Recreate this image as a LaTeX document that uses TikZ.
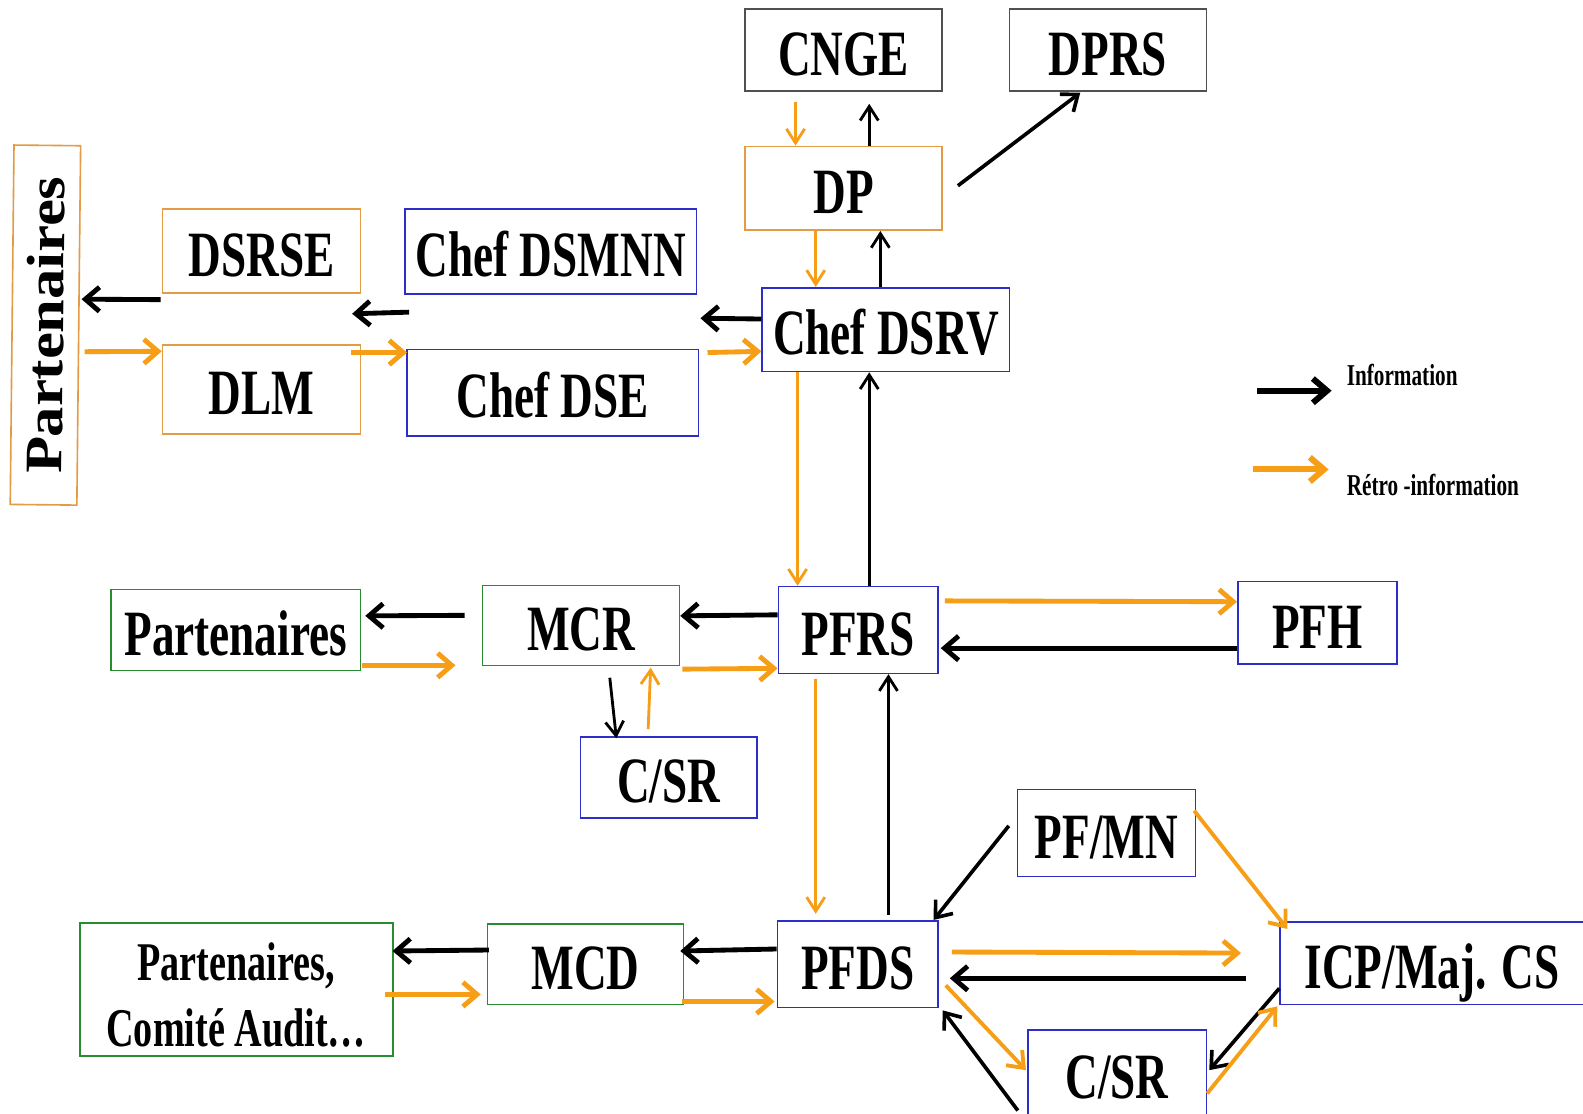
\documentclass[tikz,border=0pt]{standalone}
\usepackage{fontspec}
\usepackage{tikz}
\usetikzlibrary{arrows.meta}
\newfontfamily\boxfont{Liberation Serif}[FakeStretch=0.7]
\newfontfamily\widefont{Liberation Serif}[FakeStretch=1.15]
\definecolor{retro}{RGB}{246,158,22}
\definecolor{bxorange}{RGB}{228,155,70}
\definecolor{bxblue}{RGB}{45,45,200}
\definecolor{bxgreen}{RGB}{40,140,50}
\definecolor{bxgray}{RGB}{80,80,80}

\begin{document}
\begin{tikzpicture}
		[x=0.5pt,y=-0.5pt,
		bx/.style={draw,line width=0.8pt,inner sep=0pt,text height=25pt,text depth=0pt,
			font=\boxfont\bfseries\fontsize{32}{36}\selectfont},
		inf/.style={black,line width=2.4pt,-{Straight Barb[length=7pt,width=12pt]}},
		ret/.style={retro,line width=2.4pt,-{Straight Barb[length=7pt,width=12pt]}},
		infs/.style={black,line width=1.4pt,-{Straight Barb[length=7pt,width=9pt]}},
		rets/.style={retro,line width=1.4pt,-{Straight Barb[length=7pt,width=9pt]}},
		infd/.style={black,line width=1.8pt,-{Straight Barb[length=7pt,width=11pt]}},
		retd/.style={retro,line width=1.9pt,-{Straight Barb[length=7pt,width=11pt]}}]

		\useasboundingbox[fill=white] (0,0) rectangle (1568,1102.5);

		\node[bx,draw=bxgray,minimum width=97.5pt,minimum height=40.5pt] (cnge) at (835.5,49.5) {CNGE};
		\node[bx,draw=bxgray,minimum width=97.5pt,minimum height=40.5pt] (dprs) at (1097.5,49.5) {DPRS};
		\node[bx,draw=bxorange,minimum width=97.5pt,minimum height=41.5pt] (dp) at (835.5,186.5) {DP};
		\node[bx,draw=bxblue,minimum width=122.5pt,minimum height=41.5pt] (dsrv) at (877.5,326.5) {Chef DSRV};
		\node[bx,draw=bxorange,minimum width=98pt,minimum height=41.5pt] (dsrse) at (259,248.5) {DSRSE};
		\node[bx,draw=bxblue,minimum width=144.5pt,minimum height=42pt] (dsmnn) at (545.5,249) {Chef DSMNN};
		\node[bx,draw=bxorange,minimum width=98pt,minimum height=44pt] (dlm) at (259,386) {DLM};
		\node[bx,draw=bxblue,minimum width=144.5pt,minimum height=43pt] (dse) at (547.5,389) {Chef DSE};
		\node[draw=bxorange,line width=0.8pt,inner sep=0pt,minimum width=178pt,minimum height=33pt,rotate=89.4,
			font=\widefont\bfseries\fontsize{26}{30}\selectfont] (partv) at (45,322) {Partenaires};

		\node[bx,draw=bxgreen,minimum width=123.5pt,minimum height=40pt] (part1) at (233.5,624) {Partenaires};
		\node[bx,draw=bxgreen,minimum width=97.5pt,minimum height=39.5pt] (mcr) at (575.5,619.5) {MCR};
		\node[bx,draw=bxblue,minimum width=79pt,minimum height=43pt] (pfrs) at (850,624) {PFRS};
		\node[bx,draw=bxblue,minimum width=79pt,minimum height=41pt] (pfh) at (1305,617) {PFH};
		\node[bx,draw=bxblue,minimum width=87.5pt,minimum height=40pt] (csr1) at (662.5,770) {C/SR};

		\node[bx,draw=bxblue,minimum width=88pt,minimum height=43pt] (pfmn) at (1096,825) {PF/MN};
		\node[draw=bxgreen,line width=0.8pt,inner sep=0pt,minimum width=155pt,minimum height=66pt,align=center,
			text height=56.5pt,text depth=0pt,
			font=\boxfont\bfseries\fontsize{27}{32.5}\selectfont] (part2) at (234,980) {Partenaires,\\Comité Audit…};
		\node[bx,draw=bxgreen,minimum width=97pt,minimum height=40pt] (mcd) at (580,955) {MCD};
		\node[bx,draw=bxblue,minimum width=79.5pt,minimum height=43pt] (pfds) at (849.5,955) {PFDS};
		\node[bx,draw=bxblue,minimum width=164pt,minimum height=41pt] (icp) at (1432,954) {ICP/Maj. CS\hspace*{13.5pt}};
		\node[bx,draw=bxblue,minimum width=88.5pt,minimum height=43pt] (csr2) at (1106.5,1063) {C/SR};

		\node[anchor=base west,font=\boxfont\bfseries\fontsize{15}{18}\selectfont] (info) at (1327,382) {Information};
		\node[anchor=base west,font=\boxfont\bfseries\fontsize{15}{18}\selectfont] (retinfo) at (1327,491) {Rétro -information};

		\draw[rets] ([shift={(-47.5,10)}]cnge.south) -- ([shift={(-47.5,0)}]dp.north);
		\draw[infs] ([shift={(25.5,0)}]dp.north) -- ([shift={(25.5,12)}]cnge.south);
		\draw[infd] ([shift={(15,-2.5)}]dp.east) -- ([shift={(-27.5,1)}]dprs.south);
		\draw[rets] ([shift={(-27.5,0)}]dp.south) -- ([shift={(-69.5,0)}]dsrv.north);
		\draw[infs] ([shift={(-5.5,0)}]dsrv.north) -- ([shift={(36.5,0)}]dp.south);

		\draw[inf] ([shift={(0,-10.5)}]dsrv.west) -- ([shift={(1,-30)}]dse.north east);
		\draw[ret] ([shift={(8,4)}]dse.north east) -- ([shift={(0,21.5)}]dsrv.west);
		\draw[inf] ([shift={(3,-36)}]dse.north west) -- ([shift={(-9,20)}]dsrse.south east);
		\draw[ret] ([shift={(-10,8)}]dlm.north east) -- ([shift={(1,4)}]dse.north west);
		\draw[inf] ([shift={(-1,6)}]dsrse.south west) -- ([shift={(2,-26)}]partv.south);
		\draw[ret] ([shift={(5,26)}]partv.south) -- ([shift={(0,-38)}]dlm.west);

		\draw[rets] ([shift={(-87.5,0)}]dsrv.south) -- ([shift={(-60,0)}]pfrs.north);
		\draw[infs] ([shift={(11,0)}]pfrs.north) -- ([shift={(-16.5,0)}]dsrv.south);
		\draw[ret] ([shift={(6,15)}]pfrs.north east) -- ([shift={(0,-21)}]pfh.west);
		\draw[inf] ([shift={(0,25)}]pfh.west) -- ([shift={(2,18)}]pfrs.east);
		\draw[inf] ([shift={(0,-15)}]pfrs.west) -- ([shift={(0,-9.5)}]mcr.east);
		\draw[ret] ([shift={(2,3)}]mcr.south east) -- ([shift={(0,38)}]pfrs.west);
		\draw[inf] ([shift={(-17,-10)}]mcr.west) -- ([shift={(4,-14)}]part1.east);
		\draw[ret] ([shift={(1,35)}]part1.east) -- ([shift={(-26,39.5)}]mcr.west);
		\draw[infs] ([shift={(28.5,11.5)}]mcr.south) -- ([shift={(-52,2)}]csr1.north);
		\draw[rets] ([shift={(-20.5,-7)}]csr1.north) -- ([shift={(69,1.5)}]mcr.south);

		\draw[rets] ([shift={(-42,5)}]pfrs.south) -- ([shift={(-41.5,-6)}]pfds.north);
		\draw[infs] ([shift={(30.5,-5)}]pfds.north) -- ([shift={(30,0)}]pfrs.south);
		\draw[inf] ([shift={(0,-15)}]pfds.west) -- ([shift={(-4,-13)}]mcd.east);
		\draw[ret] ([shift={(-2,37)}]mcd.east) -- ([shift={(-2,37)}]pfds.west);
		\draw[inf] ([shift={(2,-14)}]mcd.west) -- ([shift={(-1,-38)}]part2.east);
		\draw[ret] ([shift={(-8,5)}]part2.east) -- ([shift={(-6,30)}]mcd.west);

		\draw[infd] ([shift={(-8,-7)}]pfmn.west) -- ([shift={(-5,0)}]pfds.north east);
		\draw[retd] ([shift={(-2,-22)}]pfmn.east) -- ([shift={(8,8)}]icp.north west);
		\draw[ret] ([shift={(13,-12)}]pfds.east) -- ([shift={(-38,-10)}]icp.west);
		\draw[inf] ([shift={(-33,15)}]icp.west) -- ([shift={(11,14)}]pfds.east);
		\draw[retd] ([shift={(7,21)}]pfds.east) -- ([shift={(-1,-3)}]csr2.west);
		\draw[infd] ([shift={(-9,37)}]csr2.west) -- ([shift={(4,2)}]pfds.south east);
		\draw[infd] ([shift={(0,25)}]icp.west) -- ([shift={(2,-3)}]csr2.east);
		\draw[retd] ([shift={(0,20)}]csr2.east) -- ([shift={(-2,1)}]icp.south west);

		\draw[inf,line width=3pt] ([shift={(-82,5)}]info.base west) -- ([shift={(-8,5)}]info.base west);
		\draw[ret,line width=3pt] ([shift={(-86,-26)}]retinfo.base west) -- ([shift={(-11,-26)}]retinfo.base west);

	\end{tikzpicture}
\end{document}
